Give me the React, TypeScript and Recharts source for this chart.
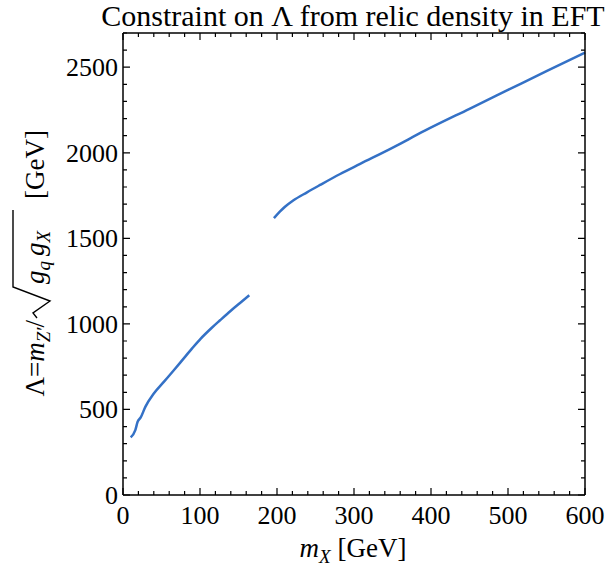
import { LineChart, Line, XAxis, YAxis, Label, ReferenceArea } from "recharts";

const FONT = '"Liberation Serif", "Times New Roman", serif';
const LINE_COLOR = "#3471c6";

// first branch (below the resonance)
const lowMx = [10, 16, 19, 23, 29, 40, 53, 66, 77, 90, 101, 115, 126, 140, 152, 164];
const lowLambda = [337, 379, 428, 453, 515, 593, 661, 729, 788, 858, 914, 976, 1021, 1077, 1122, 1167];

// second branch (above the resonance)
const highMx = [196, 204, 210, 221, 239, 256, 282, 308, 351, 392, 450, 500, 550, 600];
const highLambda = [1618, 1657, 1683, 1721, 1769, 1812, 1876, 1935, 2032, 2129, 2257, 2367, 2477, 2586];

const xMajor = [0, 100, 200, 300, 400, 500, 600];
const yMajor = [0, 500, 1000, 1500, 2000, 2500];
const xTicks = Array.from({ length: 31 }, (_, i) => i * 20);
const yTicks = Array.from({ length: 28 }, (_, i) => i * 100);

const X_MAX = 600;
const Y_MAX = 2700;

const data = [
  ...lowMx.map((m, i) => ({ m, lambda: lowLambda[i] })),
  { m: 180, lambda: null },
  ...highMx.map((m, i) => ({ m, lambda: highLambda[i] })),
];

/* ── tick labels ── */

function BottomTick({ x, y, payload }: any) {
  if (!xMajor.includes(payload.value)) return <g />;
  return (
    <text x={x} y={y + 29} textAnchor="middle" fontFamily={FONT} fontSize={26} fill="#000">
      {payload.value}
    </text>
  );
}

function LeftTick({ x, y, payload }: any) {
  if (!yMajor.includes(payload.value)) return <g />;
  return (
    <text x={x - 5} y={y + 9} textAnchor="end" fontFamily={FONT} fontSize={26} fill="#000">
      {payload.value}
    </text>
  );
}

/* ── inward frame ticks on all four sides, placed inside the plot box ── */

function FrameTicks({ viewBox }: any) {
  const vb = viewBox && viewBox.width ? viewBox : { x: 123, y: 33, width: 462, height: 462 };
  const { x, y, width, height } = vb;
  let d = "";
  xTicks.forEach((t) => {
    const px = x + (t / X_MAX) * width;
    const len = xMajor.includes(t) ? 7 : 4;
    d += `M${px},${y + height}V${y + height - len}`;
    d += `M${px},${y}V${y + len}`;
  });
  yTicks.forEach((t) => {
    const py = y + height - (t / Y_MAX) * height;
    const len = yMajor.includes(t) ? 7 : 4;
    d += `M${x},${py}H${x + len}`;
    d += `M${x + width},${py}H${x + width - len}`;
  });
  return <path d={d} fill="none" stroke="#000" strokeWidth={1.2} />;
}

/* ── labels ── */

function XTitle() {
  return (
    <text x={353} y={557} textAnchor="middle" fontFamily={FONT} fontSize={27} fill="#000">
      <tspan fontStyle="italic">m</tspan>
      <tspan fontStyle="italic" fontSize={19} dy={6}>X</tspan>
      <tspan dy={-6}>{"\u00a0[GeV]"}</tspan>
    </text>
  );
}

function YTitle() {
  return (
    <g fontFamily={FONT} fill="#000">
      <text x={353} y={26} textAnchor="middle" fontSize={30}>
        Constraint on Λ from relic density in EFT
      </text>
      <g transform="translate(44,265) rotate(-90)" fontSize={27}>
        <text x={-55} y={0} textAnchor="end">
          Λ=<tspan fontStyle="italic">m</tspan>
          <tspan fontStyle="italic" fontSize={19} dy={6}>Z′</tspan>
          <tspan dy={-6}>/</tspan>
        </text>
        <path d="M -53 -7 L -48 -11 L -36 6 L -22 -31 L 55 -31" fill="none" stroke="#000" strokeWidth={1.4} />
        <text x={-19} y={0}>
          <tspan fontStyle="italic">g</tspan>
          <tspan fontStyle="italic" fontSize={19} dy={6}>q</tspan>
          <tspan fontStyle="italic" dx={5} dy={-6}>g</tspan>
          <tspan fontStyle="italic" fontSize={19} dy={6}>X</tspan>
        </text>
        <text x={135} y={0} textAnchor="end">[GeV]</text>
      </g>
    </g>
  );
}

export default function App() {
  return (
    <div style={{ position: "absolute", left: 0, top: 0, width: 614, height: 573, background: "#fff" }}>
      <LineChart
        width={614}
        height={573}
        data={data}
        margin={{ top: 32, right: 28, bottom: 28, left: 63 }}
      >
        <XAxis
          xAxisId="bottom"
          dataKey="m"
          type="number"
          domain={[0, X_MAX]}
          ticks={xTicks}
          interval={0}
          height={50}
          tickSize={0}
          tickMargin={0}
          tickLine={false}
          axisLine={{ stroke: "#000", strokeWidth: 1.5 }}
          tick={<BottomTick />}
        >
          <Label content={<XTitle />} />
        </XAxis>
        <XAxis
          xAxisId="top"
          orientation="top"
          dataKey="m"
          type="number"
          domain={[0, X_MAX]}
          height={1}
          tick={false}
          tickLine={false}
          axisLine={{ stroke: "#000", strokeWidth: 1.5 }}
        />
        <YAxis
          yAxisId="left"
          type="number"
          domain={[0, Y_MAX]}
          ticks={yTicks}
          interval={0}
          width={60}
          tickSize={0}
          tickMargin={0}
          tickLine={false}
          axisLine={{ stroke: "#000", strokeWidth: 1.5 }}
          tick={<LeftTick />}
        >
          <Label content={<YTitle />} />
        </YAxis>
        <YAxis
          yAxisId="right"
          orientation="right"
          type="number"
          domain={[0, Y_MAX]}
          width={1}
          tick={false}
          tickLine={false}
          axisLine={{ stroke: "#000", strokeWidth: 1.5 }}
        />
        <ReferenceArea
          xAxisId="bottom"
          yAxisId="left"
          x1={0}
          x2={X_MAX}
          y1={0}
          y2={Y_MAX}
          fill="none"
          fillOpacity={0}
          stroke="none"
          ifOverflow="visible"
        >
          <Label content={<FrameTicks />} />
        </ReferenceArea>
        <Line
          xAxisId="bottom"
          yAxisId="left"
          dataKey="lambda"
          type="monotone"
          stroke={LINE_COLOR}
          strokeWidth={2.5}
          dot={false}
          connectNulls={false}
          isAnimationActive={false}
        />
      </LineChart>
    </div>
  );
}
